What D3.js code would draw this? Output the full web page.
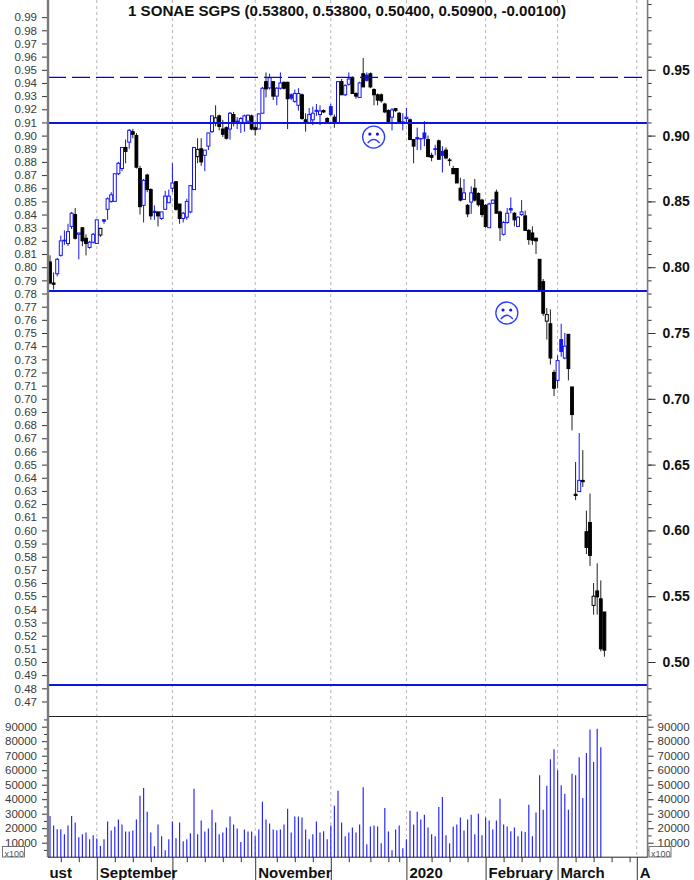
<!DOCTYPE html>
<html>
<head>
<meta charset="utf-8">
<script src="https://cdn.jsdelivr.net/npm/d3@7"></script>
<style>
  body { margin: 0; background: #fff; }
  svg { display: block; font-family: "Liberation Sans", Arial, sans-serif; }
</style>
</head>
<body>
<svg id="chart" width="694" height="880"></svg>
<script>
let w = 694;
let h = 880;

let titleText = "1 SONAE SGPS (0.53800, 0.53800, 0.50400, 0.50900, -0.00100)";

// daily candles
let opens = [
  .804,.788,.795,.809,.820,.818,.831,.840,.825,.830,
  .822,.815,.819,.818,.8245,.836,.844,.850,.850,.871,
  .875,.891,.895,.903,.900,.875,.847,.870,.859,.8425,
  .842,.837,.844,.849,.860,.865,.848,.837,.838,.842,
  .859,.884,.890,.885,.892,.903,.910,.915,.905,.906,
  .905,.916,.911,.910,.910,.911,.915,.906,.905,.917,
  .941,.9362,.941,.930,.936,.9405,.9405,.931,.926,.923,
  .931,.912,.910,.912,.9192,.916,.919,.913,.922,.914,
  .910,.941,.931,.939,.944,.932,.929,.947,.946,.947,
  .935,.931,.931,.924,.919,.914,.9205,.917,.9095,.913,
  .912,.897,.8985,.8975,.902,.897,.885,.890,.896,.888,
  .889,.8815,.875,.875,.860,.8515,.847,.8495,.860,.856,
  .851,.847,.830,.8485,.857,.842,.825,.834,.8445,.841,
  .831,.840,.839,.828,.826,.822,.806,.789,.759,.757,
  .720,.714,.745,.731,.749,.709,.6275,.6295,.638,.599,
  .606,.543,.554,.548,.538
];
let highs = [
  .809,.796,.807,.824,.828,.833,.842,.845,.826,.830,
  .825,.820,.826,.836,.830,.8365,.853,.857,.871,.880,
  .891,.897,.905,.905,.902,.877,.867,.871,.860,.847,
  .842,.842,.858,.859,.879,.865,.848,.842,.852,.862,
  .891,.898,.898,.889,.902,.915,.923,.916,.912,.907,
  .918,.918,.914,.914,.916,.916,.916,.909,.917,.937,
  .948,.947,.941,.937,.948,.941,.941,.932,.935,.936,
  .932,.917,.921,.922,.924,.923,.920,.914,.924,.916,
  .941,.943,.939,.948,.945,.933,.941,.959,.948,.948,
  .936,.932,.932,.925,.920,.921,.921,.918,.917,.921,
  .913,.897,.906,.898,.911,.900,.887,.893,.897,.892,
  .891,.883,.877,.875,.868,.867,.848,.8615,.867,.857,
  .852,.848,.849,.8515,.859,.843,.835,.845,.853,.842,
  .839,.851,.843,.829,.831,.8225,.806,.791,.769,.768,
  .722,.733,.757,.750,.749,.709,.652,.674,.661,.615,
  .628,.560,.575,.562,.538
];
let lows = [
  .787,.783,.793,.808,.817,.816,.829,.821,.806,.816,
  .809,.814,.818,.818,.823,.833,.836,.849,.850,.870,
  .873,.879,.890,.898,.875,.840,.834,.857,.836,.836,
  .831,.836,.844,.849,.857,.843,.833,.834,.836,.841,
  .859,.879,.877,.873,.889,.902,.907,.904,.899,.897,
  .897,.907,.905,.902,.903,.910,.904,.900,.905,.917,
  .929,.935,.927,.923,.935,.935,.905,.927,.925,.919,
  .912,.903,.910,.908,.915,.908,.917,.909,.915,.906,
  .910,.931,.930,.938,.932,.928,.929,.937,.941,.936,
  .923,.923,.925,.917,.910,.904,.918,.910,.904,.909,
  .897,.879,.889,.889,.892,.884,.8805,.885,.882,.872,
  .882,.877,.871,.864,.850,.851,.838,.8405,.850,.846,
  .838,.830,.830,.848,.841,.820,.824,.833,.841,.831,
  .831,.839,.828,.817,.817,.810,.783,.763,.745,.726,
  .702,.708,.732,.730,.714,.676,.623,.6295,.633,.582,
  .573,.536,.536,.508,.504
];
let closes = [
  .788,.787,.806,.820,.8205,.827,.841,.822,.826,.820,
  .818,.819,.825,.836,.8295,.835,.852,.855,.871,.879,
  .891,.888,.904,.901,.876,.846,.866,.859,.839,.8415,
  .839,.842,.854,.854,.864,.844,.837,.841,.850,.862,
  .891,.8895,.880,.889,.902,.915,.9135,.907,.901,.898,
  .917,.910,.9105,.913,.915,.9155,.905,.9045,.9165,.936,
  .9355,.944,.930,.936,.940,.936,.928,.9285,.932,.932,
  .913,.910,.916,.917,.9185,.9187,.918,.910,.916,.910,
  .941,.931,.938,.943,.932,.930,.940,.937,.942,.937,
  .931,.927,.9265,.918,.910,.9195,.919,.910,.9105,.914,
  .897,.892,.8975,.8977,.898,.884,.8835,.8895,.882,.885,
  .883,.881,.871,.864,.851,.8565,.8405,.8565,.851,.8475,
  .840,.831,.848,.851,.841,.830,.834,.841,.8435,.836,
  .838,.842,.828,.821,.8205,.820,.783,.765,.764,.731,
  .708,.729,.736,.740,.723,.688,.6265,.638,.637,.587,
  .581,.550,.5495,.510,.509
];
let volumes = [
  28500,21900,19300,19300,15900,21900,28500,23900,13800,15900,
  17000,12400,15200,12900,7800,12400,24600,18400,21200,26000,
  22500,17700,17700,18400,26000,42300,47800,31300,17000,7600,
  22500,14500,4800,12400,24600,13100,23900,11000,12400,16600,
  47200,15900,25300,17700,19800,32700,23900,15900,17000,20500,
  28000,22500,19800,10400,19100,17700,17700,14500,19100,38200,
  26000,23200,19100,18600,19100,22500,33400,17000,28000,28000,
  27400,19100,12400,15900,24600,17000,17900,12400,21900,35400,
  45800,23900,14500,17000,20500,17000,22500,48300,9000,21200,
  21900,21200,9700,34000,17700,4800,19100,21900,6200,12400,
  32000,22500,31300,26000,29200,20500,15900,14500,34700,41600,
  15200,9700,21200,22500,27400,18400,26000,29200,15900,29900,
  15200,27400,25300,19100,25300,40300,22500,21200,17900,20500,
  14500,17900,17300,36100,14500,30800,56600,32700,49200,67600,
  74500,60000,49700,43700,32700,57500,56600,69000,40900,71800,
  88100,65600,88600,75900
];

// support / resistance levels
let solidLevels = [0.9096, 0.7819, 0.4825];
let dashedLevels = [0.9443];

// where the sad faces sit: bar number and price
let faceBars = [89.9, 126.9];
let facePrices = [0.8989, 0.7652];

// calendar, in bar numbers
let monthBars = [13, 34, 57, 78, 99, 121, 141, 163];
let weekBars = [3,8,18,23,28,38,43,48,53,63,68,73,83,89,94,97,106,111,116,126,131,136,146,151,156,161];
let monthLabels = ["ust", "September", "November", "2020", "February", "March", "A"];
let monthLabelBars = [-1, 13, 57, 99, 121, 141, 163];

let leftPriceTicks = d3.range(47, 100).map(d => d / 100);
let rightMinorTicks = d3.range(46, 101).map(d => d / 100);
let rightPriceTicks = [0.50, 0.55, 0.60, 0.65, 0.70, 0.75, 0.80, 0.85, 0.90, 0.95];
let volumeLabelTicks = [10000,20000,30000,40000,50000,60000,70000,80000,90000];
let volumeMinorTicks = d3.range(5000, 95001, 10000);

let blue = "#1414f5";
let lineBlue = "#0a14e6";
let left = 48;
let right = 647.6;
let priceBottom = 716;
let volBottom = 857.2;

let xScale = d3.scaleLinear().domain([0, 166]).range([50, 647.6]);
let yScale = d3.scaleLinear().domain([0.5, 0.95]).range([662, 69.8]);
let vScale = d3.scaleLinear().domain([0, 90000]).range([volBottom, 726.7]);

let chart = d3.select("#chart");

// month grid
chart.append("g").selectAll("line").data(monthBars).join("line")
  .attr("x1", d => xScale(d)).attr("x2", d => xScale(d))
  .attr("y1", 0).attr("y2", volBottom)
  .attr("stroke", "#b4b4b4").attr("stroke-dasharray", "3,3");

// volume bars
chart.append("g").selectAll("line").data(volumes).join("line")
  .attr("x1", (d, i) => xScale(i)).attr("x2", (d, i) => xScale(i))
  .attr("y1", volBottom).attr("y2", d => vScale(d))
  .attr("stroke", "#2a2aff").attr("stroke-width", 1.2);

// candles
let candles = opens.map((o, i) => ({
  i: i, o: o, h: highs[i], l: lows[i], c: closes[i],
  up: i > 0 && closes[i] >= closes[i - 1],
  hollow: closes[i] > o
}));
let candleGroups = chart.append("g").selectAll("g").data(candles).join("g");

candleGroups.append("line")
  .attr("x1", d => xScale(d.i)).attr("x2", d => xScale(d.i))
  .attr("y1", d => yScale(d.h)).attr("y2", d => yScale(d.l))
  .attr("stroke", d => d.up ? blue : "#222");

candleGroups.append("rect")
  .attr("x", d => xScale(d.i) - (d.hollow ? 1.5 : 1.4))
  .attr("width", d => d.hollow ? 3 : 2.8)
  .attr("y", d => yScale(Math.max(d.o, d.c)))
  .attr("height", d => Math.abs(yScale(d.o) - yScale(d.c)))
  .attr("fill", d => d.hollow ? "#fff" : (d.up ? blue : "#000"))
  .attr("stroke", d => d.up ? blue : "#000");

// levels
chart.append("g").selectAll("line").data(solidLevels).join("line")
  .attr("x1", left).attr("x2", right)
  .attr("y1", d => yScale(d)).attr("y2", d => yScale(d))
  .attr("stroke", lineBlue).attr("stroke-width", 2);

chart.append("g").selectAll("line").data(dashedLevels).join("line")
  .attr("x1", left).attr("x2", right)
  .attr("y1", d => yScale(d)).attr("y2", d => yScale(d))
  .attr("stroke", "#0000ff").attr("stroke-width", 1.3)
  .attr("stroke-dasharray", "18,6");

// sad faces
let faces = chart.append("g").selectAll("g").data(faceBars).join("g")
  .attr("transform", (d, i) => `translate(${xScale(d)},${yScale(facePrices[i])})`)
  .attr("fill", "none").attr("stroke", "#2a3cff");
faces.append("circle").attr("r", 11).attr("stroke-width", 1.3);
faces.append("path").attr("d", "M-6,6 Q0,-1.5 6,6").attr("stroke-width", 1.3);
faces.selectAll(".eye").data([-3.8, 3.8]).join("circle").attr("class", "eye")
  .attr("cx", d => d).attr("cy", -3).attr("r", 1.6)
  .attr("fill", "#1414f5").attr("stroke", "none");

// panel divider
chart.append("line")
  .attr("x1", left).attr("x2", right)
  .attr("y1", priceBottom + 0.5).attr("y2", priceBottom + 0.5)
  .attr("stroke", "#222");

// axes
function styleAxis(g, size, color, weight) {
  g.select(".domain").remove();
  g.selectAll("line").attr("stroke", "#333");
  g.selectAll("text")
    .attr("font-family", "'Liberation Sans', Arial, sans-serif")
    .attr("font-size", size).attr("font-weight", weight).attr("fill", color);
}

chart.append("g").attr("transform", `translate(${left},0)`)
  .call(d3.axisLeft(yScale).tickValues(leftPriceTicks).tickFormat(d3.format(".2f")).tickSize(6).tickPadding(5))
  .call(styleAxis, 11.5, "#3a3a3a", 400);

chart.append("g").attr("transform", `translate(${right},0)`)
  .call(d3.axisRight(yScale).tickValues(rightMinorTicks).tickFormat("").tickSize(4))
  .call(styleAxis, 12, "#000", 400);

chart.append("g").attr("transform", `translate(${right},0)`)
  .call(d3.axisRight(yScale).tickValues(rightPriceTicks).tickFormat(d3.format(".2f")).tickSize(8).tickPadding(7))
  .call(styleAxis, 14, "#111", 700);

chart.append("g").attr("transform", `translate(${left},0)`)
  .call(d3.axisLeft(vScale).tickValues(volumeLabelTicks).tickFormat(d3.format("d")).tickSize(6).tickPadding(5))
  .call(styleAxis, 11.5, "#3a3a3a", 400);
chart.append("g").attr("transform", `translate(${left},0)`)
  .call(d3.axisLeft(vScale).tickValues(volumeMinorTicks).tickFormat("").tickSize(4))
  .call(styleAxis, 11.5, "#3a3a3a", 400);

chart.append("g").attr("transform", `translate(${right},0)`)
  .call(d3.axisRight(vScale).tickValues(volumeLabelTicks).tickFormat(d3.format("d")).tickSize(6).tickPadding(4))
  .call(styleAxis, 11.5, "#3a3a3a", 400);
chart.append("g").attr("transform", `translate(${right},0)`)
  .call(d3.axisRight(vScale).tickValues(volumeMinorTicks).tickFormat("").tickSize(4))
  .call(styleAxis, 11.5, "#3a3a3a", 400);

// frame lines
chart.append("line").attr("x1", left).attr("x2", left).attr("y1", 0).attr("y2", volBottom)
  .attr("stroke", "#7a7a7a").attr("stroke-width", 2.4);
chart.append("line").attr("x1", right).attr("x2", right).attr("y1", 0).attr("y2", volBottom)
  .attr("stroke", "#7a7a7a").attr("stroke-width", 1.6);
chart.append("line").attr("x1", left).attr("x2", right).attr("y1", volBottom).attr("y2", volBottom)
  .attr("stroke", "#222");

// bottom time axis
chart.append("g").attr("transform", `translate(0,${volBottom})`)
  .call(d3.axisBottom(xScale).tickValues(weekBars).tickFormat("").tickSize(5))
  .call(styleAxis, 12, "#000", 400);
chart.append("g").attr("transform", `translate(0,${volBottom})`)
  .call(d3.axisBottom(xScale).tickValues(monthBars).tickFormat("").tickSize(23))
  .call(styleAxis, 12, "#000", 400);

chart.append("g").selectAll("text").data(monthLabels).join("text")
  .attr("x", (d, i) => xScale(monthLabelBars[i]) + 3)
  .attr("y", 878)
  .attr("font-size", 15).attr("font-weight", 700).attr("fill", "#111")
  .text(d => d);

// x100 boxes
[2.5, 649].forEach(bx => {
  chart.append("rect").attr("x", bx).attr("y", 846.5).attr("width", 22).attr("height", 10.5)
    .attr("fill", "#fff").attr("stroke", "#555").attr("stroke-width", 0.8);
  chart.append("text").attr("x", bx + 2).attr("y", 857)
    .attr("font-size", 9).attr("fill", "#555").text("x100");
});

// title
chart.append("text")
  .attr("x", 347).attr("y", 16)
  .attr("text-anchor", "middle")
  .attr("font-size", 15.1).attr("font-weight", 700).attr("fill", "#111")
  .text(titleText);
</script>
</body>
</html>
